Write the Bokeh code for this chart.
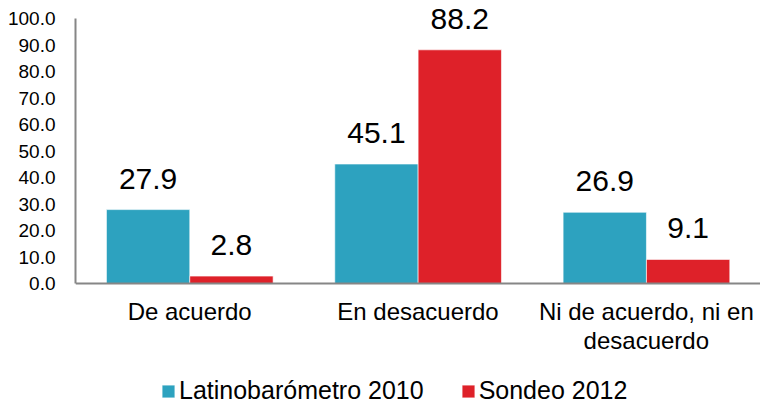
from bokeh.plotting import figure
from bokeh.models import (ColumnDataSource, LabelSet, Legend, LegendItem,
                          NumeralTickFormatter, FixedTicker, Range1d)
from bokeh.transform import dodge
from bokeh.core.properties import value
from bokeh.embed import file_html
from bokeh.resources import INLINE

categories = ["De acuerdo", "En desacuerdo", "Ni de acuerdo, ni en\ndesacuerdo"]
latino_2010 = [27.9, 45.1, 26.9]
sondeo_2012 = [2.8, 88.2, 9.1]
series_names = ["Latinobarómetro 2010", "Sondeo 2012"]
y_ticks = [0, 10, 20, 30, 40, 50, 60, 70, 80, 90, 100]

TEAL = "#2DA2BF"
RED = "#DE2129"
FONT = "Liberation Sans"

source = ColumnDataSource(dict(
    cat=categories,
    latino=latino_2010,
    sondeo=sondeo_2012,
    latino_lbl=[f"{v:.1f}" for v in latino_2010],
    sondeo_lbl=[f"{v:.1f}" for v in sondeo_2012],
))

p = figure(x_range=categories, y_range=Range1d(-46.4, 105.3),
           width=760, height=406, output_backend="svg", toolbar_location=None,
           min_border_left=75, min_border_right=0, min_border_top=4,
           min_border_bottom=0)
p.x_range.range_padding = 0

r1 = p.vbar(x=dodge("cat", -0.182, range=p.x_range), top="latino", bottom=0,
            width=0.365, source=source, fill_color=TEAL, line_color="white",
            line_alpha=0.6, line_width=1)
r2 = p.vbar(x=dodge("cat", 0.183, range=p.x_range), top="sondeo", bottom=0,
            width=0.365, source=source, fill_color=RED, line_color="white",
            line_alpha=0.6, line_width=1)

for col, off in (("latino", -0.182), ("sondeo", 0.183)):
    lbl = LabelSet(x=dodge("cat", off, range=p.x_range), y=col, text=col + "_lbl",
                   source=source, y_offset=21, text_align="center",
                   text_baseline="alphabetic", text_font=value(FONT),
                   text_font_size="30px", text_color="black")
    p.add_layout(lbl)

for ax in (p.xaxis[0], p.yaxis[0]):
    ax.axis_line_color = "#868686"
    ax.axis_line_width = 2
    ax.major_tick_line_color = None
    ax.minor_tick_line_color = None
    ax.major_label_text_font = FONT
    ax.major_label_text_color = "black"

p.xaxis.fixed_location = 0
p.xaxis.major_label_text_font_size = "24px"
p.xaxis.major_label_standoff = 8
p.xaxis.major_label_text_line_height = 1.1
p.yaxis.major_label_text_font_size = "19px"
p.yaxis.major_label_standoff = 14
p.yaxis.ticker = FixedTicker(ticks=y_ticks)
p.yaxis.formatter = NumeralTickFormatter(format="0.0")
p.yaxis.bounds = (y_ticks[0], y_ticks[-1])

p.xgrid.visible = False
p.ygrid.visible = False
p.outline_line_color = None

legend = Legend(items=[LegendItem(label=series_names[0], renderers=[r1]),
                       LegendItem(label=series_names[1], renderers=[r2])],
                location=(85, 1), orientation="horizontal",
                glyph_width=16, glyph_height=16, label_standoff=3, spacing=36,
                padding=0, margin=0, border_line_color=None,
                background_fill_alpha=0, label_text_font=FONT,
                label_text_font_size="25px", label_text_color="black")
p.add_layout(legend)

open("out.html", "w").write(file_html(p, INLINE))
